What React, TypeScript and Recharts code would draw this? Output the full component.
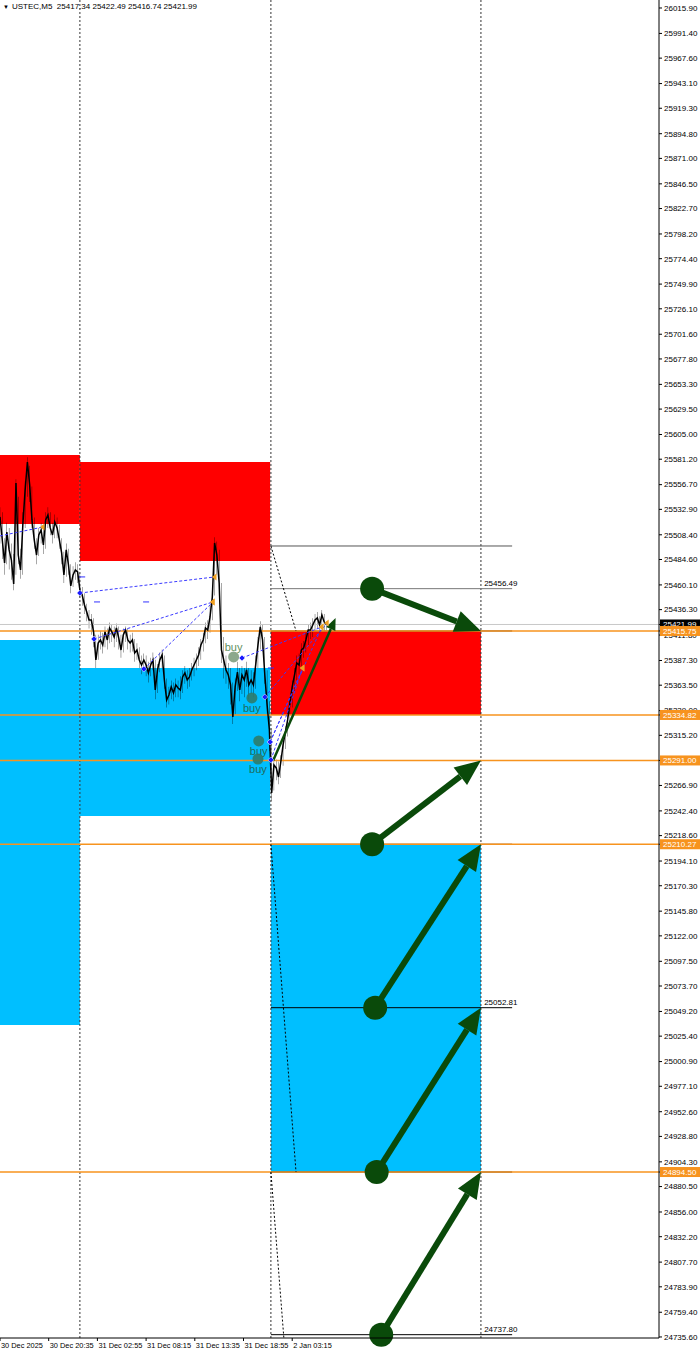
import { ComposedChart, XAxis, YAxis, Line, Bar, Scatter, ReferenceArea, ReferenceLine } from 'recharts'

// M5 closes, one every 3 bars (bar index = k * STEP), with the low / high of each step
const STEP = 3
const closes = [
  25525.6, 25503.4, 25481.2, 25511.1, 25493.8, 25484.1, 25461.0, 25558.3, 25488.9, 25474.5,
  25517.8, 25551.6, 25578.5, 25556.4, 25522.7, 25503.4, 25488.9, 25508.2, 25513.0, 25498.6,
  25522.7, 25527.5, 25515.0, 25508.2, 25520.7, 25515.0, 25503.4, 25490.9, 25469.7, 25493.8,
  25479.3, 25459.1, 25469.7, 25474.5, 25472.6, 25455.2, 25450.4, 25440.8, 25434.0, 25426.3,
  25426.3, 25414.8, 25387.8, 25404.2, 25407.1, 25402.2, 25414.8, 25407.1, 25418.6, 25414.8,
  25410.0, 25418.6, 25409.0, 25397.4, 25411.9, 25416.7, 25407.1, 25404.2, 25407.1, 25394.5,
  25397.4, 25387.8, 25383.0, 25387.8, 25383.0, 25375.3, 25383.0, 25387.8, 25358.9, 25378.2,
  25387.8, 25392.6, 25368.5, 25349.3, 25354.1, 25361.8, 25356.0, 25363.7, 25360.8, 25358.9,
  25371.4, 25375.3, 25368.5, 25371.4, 25378.2, 25383.0, 25387.8, 25392.6, 25402.2, 25407.1,
  25418.6, 25416.7, 25429.2, 25448.5, 25500.5, 25488.9, 25462.0, 25397.4, 25387.8, 25378.2,
  25373.3, 25363.7, 25332.9, 25361.8, 25376.2, 25358.9, 25373.3, 25368.5, 25378.2, 25363.7,
  25368.5, 25363.7, 25383.0, 25402.2, 25419.6, 25407.1, 25373.3, 25344.4, 25320.4, 25259.7,
  25286.7, 25283.8, 25275.1, 25289.5, 25305.9, 25318.4, 25330.0, 25346.4, 25361.8, 25373.3,
  25384.9, 25383.0, 25397.4, 25399.4, 25407.1, 25416.7, 25416.7, 25421.5, 25426.3, 25428.3,
  25421.5, 25431.1, 25424.4, 25421.99,
]
const lows = [
  25500, 25485, 25470, 25480, 25475, 25465, 25455, 25470, 25480, 25466,
  25470, 25515, 25545, 25540, 25515, 25495, 25480, 25488, 25500, 25490,
  25495, 25515, 25508, 25500, 25505, 25505, 25495, 25480, 25462, 25468,
  25470, 25452, 25458, 25465, 25462, 25448, 25440, 25432, 25425, 25418,
  25412, 25400, 25380, 25388, 25398, 25394, 25400, 25398, 25404, 25405,
  25400, 25405, 25398, 25390, 25395, 25405, 25398, 25395, 25396, 25386,
  25388, 25380, 25374, 25378, 25372, 25366, 25372, 25378, 25350, 25356,
  25376, 25380, 25360, 25342, 25345, 25350, 25348, 25352, 25352, 25350,
  25356, 25365, 25360, 25362, 25368, 25372, 25378, 25382, 25388, 25396,
  25404, 25408, 25414, 25426, 25450, 25470, 25450, 25385, 25370, 25365,
  25360, 25345, 25326, 25335, 25358, 25348, 25355, 25352, 25362, 25350,
  25355, 25352, 25360, 25380, 25398, 25396, 25365, 25336, 25300, 25252,
  25262, 25272, 25268, 25274, 25286, 25302, 25314, 25326, 25342, 25356,
  25368, 25374, 25380, 25390, 25395, 25402, 25408, 25410, 25416, 25418,
  25414, 25418, 25416, 25416.74,
]
const highs = [
  25535, 25530, 25505, 25520, 25515, 25500, 25490, 25562, 25545, 25495,
  25530, 25560, 25583, 25575, 25555, 25525, 25505, 25515, 25520, 25515,
  25530, 25535, 25530, 25520, 25528, 25525, 25518, 25505, 25492, 25500,
  25495, 25480, 25478, 25482, 25480, 25472, 25458, 25452, 25442, 25436,
  25432, 25428, 25412, 25412, 25416, 25414, 25420, 25418, 25424, 25422,
  25420, 25423, 25420, 25412, 25418, 25420, 25418, 25412, 25414, 25408,
  25404, 25400, 25392, 25394, 25392, 25386, 25390, 25395, 25388, 25384,
  25395, 25398, 25392, 25370, 25362, 25368, 25366, 25370, 25368, 25372,
  25378, 25382, 25378, 25380, 25385, 25390, 25394, 25400, 25408, 25414,
  25424, 25426, 25440, 25460, 25506, 25502, 25494, 25462, 25410, 25392,
  25385, 25380, 25366, 25370, 25386, 25380, 25382, 25380, 25386, 25380,
  25378, 25376, 25392, 25410, 25425, 25422, 25410, 25378, 25348, 25322,
  25294, 25292, 25290, 25296, 25312, 25324, 25338, 25352, 25368, 25380,
  25392, 25394, 25404, 25406, 25414, 25422, 25424, 25428, 25432, 25434,
  25430, 25436, 25432, 25425,
]
const priceData = closes.map((p, k) => ({ i: k * STEP, p, range: [lows[k], highs[k]] }))

const yTicks = [
  26015.9, 25991.4, 25967.6, 25943.1, 25919.3, 25894.8, 25871.0, 25846.5, 25822.7, 25798.2,
  25774.4, 25749.9, 25726.1, 25701.6, 25677.8, 25653.3, 25629.5, 25605.0, 25581.2, 25556.7,
  25532.9, 25508.4, 25484.6, 25460.1, 25436.3, 25411.8, 25387.3, 25363.5, 25339.0, 25315.2,
  25266.9, 25242.4, 25218.6, 25194.1, 25170.3, 25145.8, 25122.0, 25097.5, 25073.7,
  25049.2, 25025.4, 25000.9, 24977.1, 24952.6, 24928.8, 24904.3, 24880.5, 24856.0, 24832.2,
  24807.7, 24783.9, 24759.4, 24735.6,
]
const xTicks = [0, 64, 128, 192, 256, 320, 384]
const xTickLabels = ['30 Dec 2025', '30 Dec 20:35', '31 Dec 02:55', '31 Dec 08:15', '31 Dec 13:35', '31 Dec 18:55', '2 Jan 03:15']

const redZones = [
  { from: 0, to: 105, low: 25518.8, high: 25585.3 },
  { from: 105, to: 355, low: 25483.2, high: 25578.5 },
  { from: 356, to: 632, low: 25334.82, high: 25415.75 },
]
const blueZones = [
  { from: 0, to: 105, low: 25036.2, high: 25407.1 },
  { from: 105, to: 355, low: 25237.5, high: 25380.1 },
  { from: 356, to: 632, low: 24894.5, high: 25210.27 },
]
const sessionMarks = [105, 356, 632]
const orangeLevels = [25415.75, 25334.82, 25291.0, 25210.27, 24894.5]
const bid = 25421.99

const targetLevels = [
  { p: 25497.6, label: '', color: '#555555' },
  { p: 25456.49, label: '25456.49', color: '#777777' },
  { p: 25415.75, label: '', color: '#222222' },
  { p: 25210.27, label: '', color: '#5a2a00' },
  { p: 25052.81, label: '25052.81', color: '#000000' },
  { p: 24894.5, label: '', color: '#000000' },
  { p: 24737.8, label: '24737.80', color: '#000000' },
]
const targetFrom = 356
const targetTo = 673

const guideLines = [
  { from: 356, to: 389, start: 25497.6, end: 25415.75 },
  { from: 356, to: 389, start: 25210.27, end: 24894.5 },
  { from: 356, to: 373, start: 24894.5, end: 24734.8 },
]

const signalLinks = [
  { from: 0, to: 56.5, start: 25507.3, end: 25515.9 },
  { from: 105, to: 282.5, start: 25452.3, end: 25467.8 },
  { from: 123.5, to: 280, start: 25408.0, end: 25443.7 },
  { from: 189, to: 280, start: 25379.1, end: 25443.7 },
  { from: 318, to: 423, start: 25389.7, end: 25419.6 },
  { from: 348, to: 430, start: 25352.1, end: 25423.4 },
  { from: 355, to: 398, start: 25308.8, end: 25380.1 },
  { from: 355, to: 423, start: 25308.8, end: 25419.6 },
  { from: 356, to: 398, start: 25291.5, end: 25380.1 },
]
const entryMarks = signalLinks.slice(1).map((s) => ({ i: s.from, p: s.start }))
const exitMarks = signalLinks.map((s) => ({ i: s.to, p: s.end }))
const pendingMarks = [
  { i: 108, p: 25467.8 },
  { i: 127.5, p: 25443.7 },
  { i: 192, p: 25443.7 },
  { i: 356, p: 25380.1 },
]

const buySignals = [
  { i: 307, p: 25390.7, faded: true, above: true },
  { i: 331, p: 25351.2, faded: false, above: false },
  { i: 340, p: 25309.8, faded: false, above: false },
  { i: 339, p: 25292.4, faded: false, above: false },
]

const bigArrows = [
  { from: 489, to: 632, start: 25456.49, end: 25415.75 },
  { from: 489, to: 632, start: 25210.27, end: 25291.0 },
  { from: 493, to: 632, start: 25052.81, end: 25210.27 },
  { from: 495, to: 632, start: 24894.5, end: 25052.81 },
  { from: 501, to: 632, start: 24737.8, end: 24894.5 },
]
const smallArrows = [{ from: 359, to: 441, start: 25291.0, end: 25428.3 }]

const FONT = 'Liberation Sans, Arial, sans-serif'
const GREEN = '#0a4a0a'
const ORANGE = '#f7931e'

function arrowShape(width: number, head: number, half: number, dot: number) {
  return (props: any) => {
    const { x1, y1, x2, y2 } = props
    const dx = x2 - x1
    const dy = y2 - y1
    const len = Math.sqrt(dx * dx + dy * dy) || 1
    const ux = dx / len
    const uy = dy / len
    const bx = x2 - ux * head
    const by = y2 - uy * head
    const pts = `${x2},${y2} ${bx - uy * half},${by + ux * half} ${bx + uy * half},${by - ux * half}`
    return (
      <g>
        <line x1={x1} y1={y1} x2={bx} y2={by} stroke={GREEN} strokeWidth={width} />
        <polygon points={pts} fill={GREEN} />
        {dot > 0 && <circle cx={x1} cy={y1} r={dot} fill={GREEN} />}
      </g>
    )
  }
}

function levelLabel(text: string) {
  return (props: any) => {
    const vb = props.viewBox || {}
    if (!text) return null
    return (
      <text x={(vb.x || 0) + (vb.width || 0) - 28} y={(vb.y || 0) - 3} fontSize={8} fontFamily={FONT} fill="#000">
        {text}
      </text>
    )
  }
}

const XTick = (props: any) => {
  const { x, y, payload } = props
  const idx = xTicks.indexOf(payload.value)
  return (
    <text x={x + 1} y={y} dy="0.71em" fontSize={7.4} fontFamily={FONT} fill="#000">
      {xTickLabels[idx] ?? ''}
    </text>
  )
}

// price scale labels; level badges come last so they sit on top of the plain labels
const YTick = (props: any) => {
  const { x, y, payload } = props
  const v = payload.value as number
  const isBid = v === bid
  const isLevel = orangeLevels.includes(v)
  if (isBid || isLevel) {
    return (
      <g>
        <rect x={x - 4} y={y - 5} width={40} height={10} fill={isBid ? '#000' : ORANGE} />
        <text x={x - 1} y={y} dy="0.355em" fontSize={8} fontFamily={FONT} fill="#fff">
          {v.toFixed(2)}
        </text>
      </g>
    )
  }
  return (
    <text x={x} y={y} dy="0.355em" fontSize={8} fontFamily={FONT} fill="#000">
      {v.toFixed(2)}
    </text>
  )
}

const BuyDot = (props: any) => {
  const { cx, cy, payload } = props
  const c = payload.faded ? '#7f9f80' : '#2e7b6b'
  const t = payload.faded ? '#5f8f60' : '#1f6b5b'
  return (
    <g>
      <circle cx={cx} cy={cy} r={5.5} fill={c} fillOpacity={0.9} />
      <text x={cx} y={payload.above ? cy - 6 : cy + 14} textAnchor="middle" fontSize={11} fontFamily={FONT} fill={t}>
        buy
      </text>
    </g>
  )
}

const EntryDot = (props: any) => {
  const { cx, cy } = props
  return <polygon points={`${cx - 3},${cy} ${cx},${cy - 3} ${cx + 3},${cy} ${cx},${cy + 3}`} fill="#1a1aff" stroke="#fff" strokeWidth={0.5} />
}
const ExitDot = (props: any) => {
  const { cx, cy } = props
  return <polygon points={`${cx - 3},${cy} ${cx + 1.5},${cy - 3.5} ${cx + 1.5},${cy + 3.5}`} fill="#f0a020" />
}
const PendingDot = (props: any) => {
  const { cx, cy } = props
  return <line x1={cx - 3} y1={cy} x2={cx + 3} y2={cy} stroke="#3030ff" strokeWidth={1} />
}

export default function App() {
  return (
    <div style={{ position: 'absolute', left: 0, top: 0, width: 700, height: 1355, background: '#fff' }}>
      <ComposedChart width={700} height={1355} data={priceData} margin={{ top: 0, right: 0, bottom: 0, left: 0 }}>
        <XAxis
          type="number"
          dataKey="i"
          domain={[0, 866]}
          ticks={xTicks}
          interval={0}
          allowDataOverflow
          height={17}
          tickSize={3}
          tickMargin={2}
          stroke="#000"
          tick={<XTick />}
        />
        <YAxis
          orientation="right"
          type="number"
          domain={[24734.6, 26023.6]}
          allowDataOverflow
          ticks={[...yTicks, bid, ...orangeLevels]}
          interval={0}
          width={41}
          tickSize={3}
          tickMargin={2}
          stroke="#000"
          tick={<YTick />}
        />

        {redZones.map((z, k) => (
          <ReferenceArea key={`r${k}`} x1={z.from} x2={z.to} y1={z.low} y2={z.high} fill="#ff0000" fillOpacity={1} stroke="none" />
        ))}
        {blueZones.map((z, k) => (
          <ReferenceArea key={`b${k}`} x1={z.from} x2={z.to} y1={z.low} y2={z.high} fill="#00bfff" fillOpacity={1} stroke="none" />
        ))}

        {sessionMarks.map((m) => (
          <ReferenceLine key={`s${m}`} x={m} stroke="#333" strokeDasharray="2 2" strokeWidth={1} />
        ))}

        <ReferenceLine y={bid} stroke="#c8c8c8" strokeWidth={1} />

        {targetLevels.map((t) => (
          <ReferenceLine
            key={`t${t.p}`}
            segment={[{ x: targetFrom, y: t.p }, { x: targetTo, y: t.p }]}
            stroke={t.color}
            strokeWidth={1}
            label={levelLabel(t.label)}
          />
        ))}

        {orangeLevels.map((l) => (
          <ReferenceLine key={`o${l}`} y={l} stroke={ORANGE} strokeWidth={1.5} />
        ))}

        {guideLines.map((g, k) => (
          <ReferenceLine
            key={`g${k}`}
            segment={[{ x: g.from, y: g.start }, { x: g.to, y: g.end }]}
            stroke="#000"
            strokeWidth={1}
            strokeDasharray="2 2"
          />
        ))}

        <Bar dataKey="range" barSize={1.8} fill="#000" isAnimationActive={false} />
        <Line type="linear" dataKey="p" stroke="#000" strokeWidth={1.5} dot={false} activeDot={false} isAnimationActive={false} />

        {signalLinks.map((s, k) => (
          <ReferenceLine
            key={`l${k}`}
            segment={[{ x: s.from, y: s.start }, { x: s.to, y: s.end }]}
            stroke="#3a3aff"
            strokeWidth={1}
            strokeDasharray="3 2"
          />
        ))}
        <Scatter data={pendingMarks} dataKey="p" shape={<PendingDot />} isAnimationActive={false} />
        <Scatter data={entryMarks} dataKey="p" shape={<EntryDot />} isAnimationActive={false} />
        <Scatter data={exitMarks} dataKey="p" shape={<ExitDot />} isAnimationActive={false} />
        <Scatter data={buySignals} dataKey="p" shape={<BuyDot />} isAnimationActive={false} />

        {smallArrows.map((a, k) => (
          <ReferenceLine
            key={`sa${k}`}
            segment={[{ x: a.from, y: a.start }, { x: a.to, y: a.end }]}
            shape={arrowShape(2.5, 12, 5, 0)}
          />
        ))}
        {bigArrows.map((a, k) => (
          <ReferenceLine
            key={`ba${k}`}
            segment={[{ x: a.from, y: a.start }, { x: a.to, y: a.end }]}
            shape={arrowShape(6, 26, 11, 12)}
          />
        ))}
      </ComposedChart>
      <div style={{ position: 'absolute', left: 3, top: 2, fontSize: 8, fontFamily: FONT, color: '#000', whiteSpace: 'nowrap' }}>
        <span style={{ fontSize: 6, marginRight: 3 }}>▼</span>USTEC,M5&nbsp; 25417.34 25422.49 25416.74 25421.99
      </div>
    </div>
  )
}
